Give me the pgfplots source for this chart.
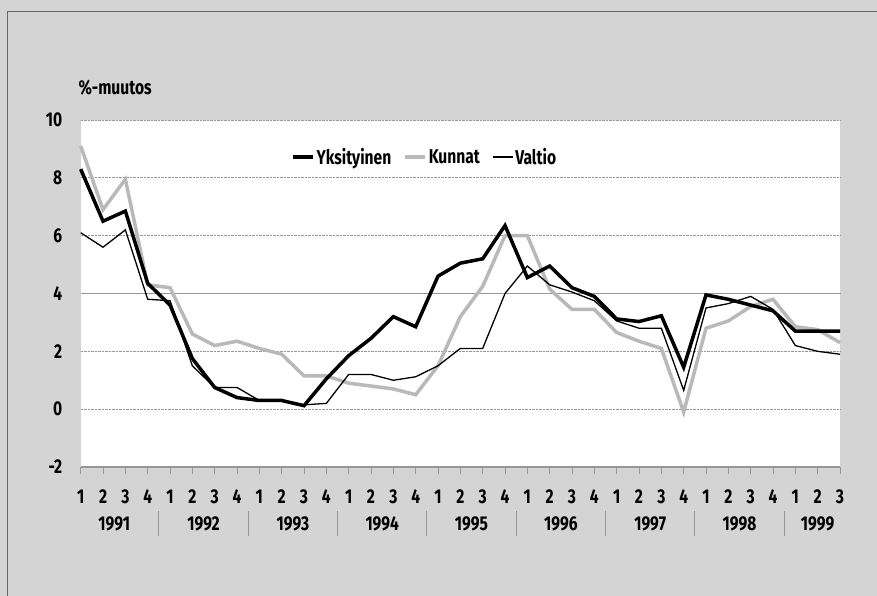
\documentclass[border=0pt]{standalone}
\usepackage{pgfplots}
\pgfplotsset{compat=1.18}
\usepackage{pgfplotstable}
\usepackage{fontspec}
\setmainfont{Fira Sans}[FakeStretch=0.78]
\definecolor{bgc}{RGB}{212,212,212}
\definecolor{kun}{RGB}{185,185,185}
\definecolor{gridc}{RGB}{150,150,150}

\pgfplotstableread{
i Y K V
0 8.3 9.1 6.1
1 6.5 6.9 5.6
2 6.85 7.95 6.2
3 4.35 4.3 3.8
4 3.6 4.2 3.75
5 1.75 2.6 1.5
6 0.75 2.2 0.75
7 0.4 2.35 0.75
8 0.3 2.1 0.3
9 0.3 1.9 0.3
10 0.12 1.15 0.15
11 1.05 1.15 0.2
12 1.85 0.9 1.2
13 2.45 0.8 1.2
14 3.2 0.7 1.0
15 2.85 0.5 1.12
16 4.6 1.5 1.5
17 5.05 3.2 2.1
18 5.2 4.25 2.1
19 6.35 6.0 4.0
20 4.55 6.0 4.95
21 4.95 4.15 4.3
22 4.2 3.45 4.05
23 3.9 3.45 3.75
24 3.12 2.65 3.05
25 3.03 2.35 2.8
26 3.23 2.1 2.8
27 1.45 -0.1 0.65
28 3.95 2.8 3.5
29 3.8 3.05 3.65
30 3.6 3.55 3.9
31 3.4 3.8 3.45
32 2.7 2.85 2.2
33 2.7 2.75 2.0
34 2.7 2.3 1.9
}\data

\begin{document}
\begin{tikzpicture}[x=1pt,y=1pt,font=\fontsize{20}{24}\selectfont\bfseries]
\useasboundingbox (0,0) rectangle (877,596);
\fill[bgc] (0,0) rectangle (877,596);
\draw[gray!80!black, line width=1pt] (7,-5) -- (7,584) -- (890,584);
\begin{axis}[
  at={(80.7pt,129pt)}, anchor=south west,
  scale only axis, width=759.3pt, height=347pt,
  xmin=0, xmax=34, ymin=-2, ymax=10,
  axis background/.style={fill=white},
  axis x line*=bottom, axis y line*=left,
  y axis line style={draw=none},
  x axis line style={draw=gridc, line width=1.5pt},
  ytick={-2,0,2,4,6,8,10},
  ytick style={draw=none},
  xtick={0,...,34},
  xticklabels={1,2,3,4,1,2,3,4,1,2,3,4,1,2,3,4,1,2,3,4,1,2,3,4,1,2,3,4,1,2,3,4,1,2,3},
  xtick style={draw=gridc, line width=0.8pt},
  tick align=outside, major tick length=7pt,
  xticklabel style={yshift=-12pt},
  yticklabel style={xshift=-8pt},
  /pgf/number format/assume math mode=true,
  ymajorgrids, major grid style={densely dotted, gridc, line width=0.8pt},
  clip=false,
  legend style={at={(0.273,0.893)}, anchor=west, draw=none, fill=none,
    legend columns=3, font=\fontsize{20}{24}\selectfont\bfseries,
    /tikz/every even column/.append style={column sep=10pt}},
  legend image code/.code={\draw[#1] (0pt,0pt) -- (20pt,0pt);},
]
\addlegendimage{black, line width=3.5pt}
\addlegendentry{Yksityinen}
\addlegendimage{kun, line width=3.5pt}
\addlegendentry{Kunnat}
\addlegendimage{black, line width=1.3pt}
\addlegendentry{Valtio}
\draw[gridc, line width=1pt] (axis cs:0,4) -- (axis cs:34,4);
\addplot[kun, line width=3.5pt, forget plot] table[x=i, y=K] {\data};
\addplot[black, line width=1.3pt, forget plot] table[x=i, y=V] {\data};
\addplot[black, line width=3.5pt, forget plot] table[x=i, y=Y] {\data};
\node[anchor=west] at (axis description cs:-0.0075,1.092) {\%-muutos};
\node at (axis cs:1.5,-2) [yshift=-57pt] {1991};
\node at (axis cs:5.5,-2) [yshift=-57pt] {1992};
\node at (axis cs:9.5,-2) [yshift=-57pt] {1993};
\node at (axis cs:13.5,-2) [yshift=-57pt] {1994};
\node at (axis cs:17.5,-2) [yshift=-57pt] {1995};
\node at (axis cs:21.5,-2) [yshift=-57pt] {1996};
\node at (axis cs:25.5,-2) [yshift=-57pt] {1997};
\node at (axis cs:29.5,-2) [yshift=-57pt] {1998};
\node at (axis cs:33,-2) [yshift=-57pt] {1999};
\draw[gridc, line width=0.8pt] ([yshift=-44pt]axis cs:3.5,-2) -- ([yshift=-69pt]axis cs:3.5,-2);
\draw[gridc, line width=0.8pt] ([yshift=-44pt]axis cs:7.5,-2) -- ([yshift=-69pt]axis cs:7.5,-2);
\draw[gridc, line width=0.8pt] ([yshift=-44pt]axis cs:11.5,-2) -- ([yshift=-69pt]axis cs:11.5,-2);
\draw[gridc, line width=0.8pt] ([yshift=-44pt]axis cs:15.5,-2) -- ([yshift=-69pt]axis cs:15.5,-2);
\draw[gridc, line width=0.8pt] ([yshift=-44pt]axis cs:19.5,-2) -- ([yshift=-69pt]axis cs:19.5,-2);
\draw[gridc, line width=0.8pt] ([yshift=-44pt]axis cs:23.5,-2) -- ([yshift=-69pt]axis cs:23.5,-2);
\draw[gridc, line width=0.8pt] ([yshift=-44pt]axis cs:27.5,-2) -- ([yshift=-69pt]axis cs:27.5,-2);
\draw[gridc, line width=0.8pt] ([yshift=-44pt]axis cs:31.5,-2) -- ([yshift=-69pt]axis cs:31.5,-2);
\end{axis}
\end{tikzpicture}
\end{document}
